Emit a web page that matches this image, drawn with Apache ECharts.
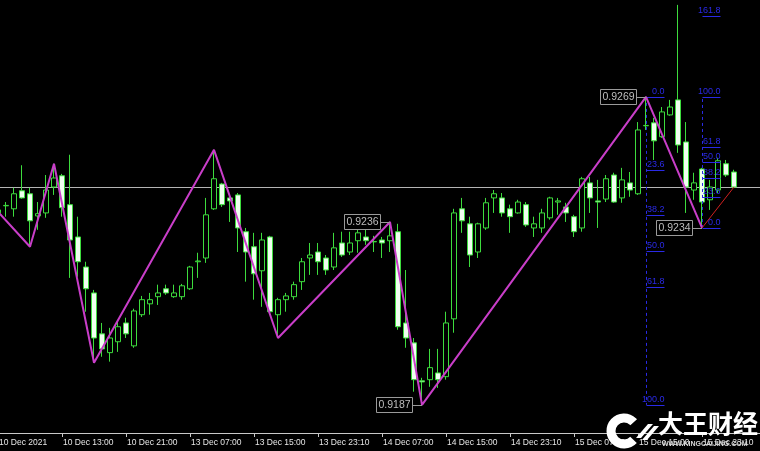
<!DOCTYPE html>
<html><head><meta charset="utf-8">
<script src="https://cdn.jsdelivr.net/npm/echarts@6/dist/echarts.min.js"></script>
<style>html,body{margin:0;padding:0;background:#000;}#c{width:760px;height:451px;}</style>
</head><body><div id="c"></div>
<script>
const open = [0.92381,0.92400,0.92392,0.92440,0.92432,0.92373,0.92381,0.92450,0.92480,0.92403,
0.92317,0.92237,0.92168,0.92059,0.92009,0.92038,0.92088,0.92027,0.92110,0.92139,
0.92158,0.92179,0.92158,0.92158,0.92179,0.92251,0.92261,0.92392,0.92458,0.92421,
0.92429,0.92331,0.92291,0.92227,0.92317,0.92110,0.92150,0.92158,0.92198,0.92261,
0.92277,0.92261,0.92237,0.92301,0.92277,0.92307,0.92317,0.92304,0.92309,0.92307,
0.92331,0.92088,0.92035,0.91934,0.91937,0.91955,0.91945,0.92099,0.92392,0.92352,
0.92277,0.92341,0.92421,0.92421,0.92392,0.92381,0.92403,0.92341,0.92341,0.92368,
0.92410,0.92397,0.92371,0.92341,0.92461,0.92413,0.92418,0.92482,0.92421,0.92461,
0.92432,0.92613,0.92621,0.92584,0.92642,0.92682,0.92570,0.92442,0.92498,0.92416,
0.92442,0.92512,0.92490];
const close = [0.92389,0.92401,0.92432,0.92421,0.92360,0.92379,0.92442,0.92474,0.92395,0.92309,
0.92251,0.92179,0.92048,0.92019,0.92048,0.92078,0.92059,0.92120,0.92150,0.92150,
0.92168,0.92168,0.92168,0.92187,0.92237,0.92253,0.92376,0.92472,0.92403,0.92413,
0.92341,0.92277,0.92219,0.92309,0.92118,0.92150,0.92160,0.92190,0.92251,0.92269,
0.92251,0.92229,0.92288,0.92269,0.92301,0.92328,0.92307,0.92305,0.92301,0.92320,
0.92078,0.92048,0.91937,0.91931,0.91969,0.91937,0.92088,0.92381,0.92360,0.92269,
0.92352,0.92408,0.92432,0.92381,0.92371,0.92410,0.92349,0.92352,0.92381,0.92421,
0.92413,0.92381,0.92331,0.92472,0.92421,0.92410,0.92472,0.92410,0.92469,0.92442,
0.92602,0.92614,0.92573,0.92650,0.92663,0.92562,0.92450,0.92461,0.92410,0.92450,
0.92520,0.92482,0.92450];
const low = [0.92373,0.92371,0.92371,0.92419,0.92291,0.92336,0.92368,0.92429,0.92371,0.92208,
0.92211,0.92118,0.91982,0.91998,0.91985,0.92011,0.92048,0.92022,0.92104,0.92110,
0.92136,0.92163,0.92155,0.92150,0.92176,0.92208,0.92248,0.92389,0.92397,0.92357,
0.92277,0.92198,0.92150,0.92131,0.92110,0.92048,0.92118,0.92150,0.92176,0.92216,
0.92216,0.92216,0.92229,0.92264,0.92269,0.92275,0.92296,0.92277,0.92261,0.92277,
0.92070,0.92022,0.91905,0.91870,0.91918,0.91915,0.91937,0.92062,0.92328,0.92237,
0.92261,0.92336,0.92381,0.92371,0.92328,0.92379,0.92344,0.92317,0.92328,0.92363,
0.92376,0.92357,0.92317,0.92331,0.92381,0.92341,0.92410,0.92408,0.92408,0.92424,
0.92429,0.92602,0.92522,0.92581,0.92640,0.92541,0.92381,0.92416,0.92341,0.92389,
0.92434,0.92477,0.92448];
const high = [0.92397,0.92410,0.92448,0.92508,0.92448,0.92410,0.92482,0.92512,0.92485,0.92536,
0.92371,0.92251,0.92176,0.92088,0.92075,0.92091,0.92102,0.92126,0.92160,0.92168,
0.92190,0.92190,0.92190,0.92192,0.92240,0.92275,0.92421,0.92549,0.92461,0.92429,
0.92434,0.92341,0.92328,0.92328,0.92320,0.92155,0.92168,0.92198,0.92261,0.92301,
0.92301,0.92269,0.92328,0.92331,0.92331,0.92344,0.92341,0.92320,0.92317,0.92357,
0.92352,0.92229,0.92048,0.91942,0.92019,0.92019,0.92118,0.92392,0.92421,0.92371,
0.92355,0.92421,0.92442,0.92434,0.92403,0.92416,0.92410,0.92371,0.92392,0.92424,
0.92421,0.92408,0.92376,0.92477,0.92477,0.92469,0.92482,0.92488,0.92501,0.92490,
0.92623,0.92690,0.92634,0.92663,0.92682,0.92935,0.92623,0.92488,0.92501,0.92469,
0.92528,0.92522,0.92496];

const tickLabels = ['10 Dec 2021','10 Dec 13:00','10 Dec 21:00','13 Dec 07:00','13 Dec 15:00','13 Dec 23:10',
  '14 Dec 07:00','14 Dec 15:00','14 Dec 23:10','15 Dec 07:00','15 Dec 15:00','15 Dec 23:10'];

const zigzagIdx = [0,4,7,12,27,35,49,53,81,88];
const zigzagVal = [0.92384,0.92291,0.92512,0.91982,0.92549,0.92048,0.92357,0.91870,0.92690,0.92341];
const legIdx = [88,92];
const legVal = [0.92341,0.92450];
const bidPrice = 0.92450;

const pivotIdx = [49,53,81,88];
const pivotVal = [0.92357,0.91870,0.92690,0.92341];
const pivotText = ['0.9236','0.9187','0.9269','0.9234'];

const fibIdx = [81,88];
const fibFrom = [0.92690,0.92341];
const fibTo = [0.91870,0.92690];
const fibLevels1 = [0,23.6,38.2,50,61.8,100];
const fibLevels2 = [0,23.6,38.2,50,61.8,100,161.8];
const fibLevelSets = [fibLevels1, fibLevels2];

const nCats = 96;
const cats = [];
for (let i = 0; i < nCats; i++) cats.push(String(i));
const candles = open.map((o, i) => [o, close[i], low[i], high[i]]);

const chart = echarts.init(document.getElementById('c'), null, {renderer: 'canvas'});
const FIB = '#2a2ae6';

chart.setOption({
  backgroundColor: '#000000',
  animation: false,
  grid: {left: -6, right: -2, top: 0, bottom: 18, containLabel: false, outerBoundsMode: 'none'},
  xAxis: {
    type: 'category', data: cats, boundaryGap: true,
    axisLine: {lineStyle: {color: '#c8c8c8', width: 1}},
    axisTick: {show: true, alignWithLabel: true, interval: (i) => i % 8 === 0, length: 4, lineStyle: {color: '#c8c8c8'}},
    axisLabel: {
      interval: (i) => i % 8 === 0 && i <= 88,
      formatter: (v, i) => tickLabels[Math.round(Number(v) / 8)],
      color: '#e6e6e6', fontSize: 8.5, fontFamily: 'Liberation Sans', align: 'left', margin: 5,
      padding: [0, 0, 0, 1]
    },
    splitLine: {show: false}
  },
  yAxis: {
    type: 'value', min: 0.91795, max: 0.92948, show: false, splitLine: {show: false}
  },
  series: [
    {
      type: 'candlestick', data: candles, barWidth: 5,
      itemStyle: {color: '#000000', color0: '#f0fff0', borderColor: '#3ddc3d', borderColor0: '#3ddc3d', borderWidth: 1},
      z: 2
    },
    {
      type: 'line', data: zigzagIdx.map((x, k) => [x, zigzagVal[k]]),
      showSymbol: false, symbol: 'none', lineStyle: {color: '#c93ec9', width: 2}, z: 5,
      markLine: {
        silent: true, symbol: 'none', label: {show: false}, precision: 6, z: 1,
        lineStyle: {color: '#b4b4b4', type: 'solid', width: 1},
        data: [{yAxis: bidPrice}]
      }
    },
    {
      type: 'line', data: legIdx.map((x, k) => [x, legVal[k]]),
      showSymbol: false, symbol: 'none', lineStyle: {color: '#d02020', width: 1}, z: 5
    },
    {
      type: 'custom', z: 4,
      data: fibIdx.map((x, k) => [x, fibFrom[k], fibTo[k]]),
      encode: {x: 0, y: 1},
      renderItem: function (params, api) {
        const k = params.dataIndex;
        const idx = api.value(0), p0 = api.value(1), p1 = api.value(2);
        const a = api.coord([idx, p0]);
        const b = api.coord([idx, p1]);
        const x = Math.round(a[0]) + 0.5;
        const w = api.size([1, 0])[0] * 2.25;
        const ch = [{
          type: 'line', shape: {x1: x, y1: a[1], x2: x, y2: b[1]},
          style: {stroke: FIB, lineWidth: 1, lineDash: [3, 3]}
        }];
        fibLevelSets[k].forEach(function (r) {
          const p = p0 + (p1 - p0) * r / 100;
          const y = Math.round(api.coord([idx, p])[1]) + 0.5;
          ch.push({type: 'line', shape: {x1: x, y1: y, x2: x + w, y2: y}, style: {stroke: FIB, lineWidth: 1}});
          ch.push({type: 'text', x: x + w, y: y - 1,
            style: {text: r.toFixed(1), fill: FIB, font: '9px "Liberation Sans"', align: 'right', verticalAlign: 'bottom'}});
        });
        return {type: 'group', children: ch};
      }
    },
    {
      type: 'custom', z: 6,
      data: pivotIdx.map((x, k) => [x, pivotVal[k]]),
      encode: {x: 0, y: 1},
      renderItem: function (params, api) {
        const k = params.dataIndex;
        const pt = api.coord([api.value(0), api.value(1)]);
        const y = Math.round(pt[1]) + 0.5;
        const right = Math.round(pt[0] - 10) + 0.5;
        return {type: 'group', children: [
          {type: 'line', shape: {x1: right, y1: y, x2: pt[0], y2: y}, style: {stroke: '#9a9a9a', lineWidth: 1}},
          {type: 'rect', shape: {x: right - 36, y: y - 8, width: 36, height: 15}, style: {stroke: '#9a9a9a', fill: '#000', lineWidth: 1}},
          {type: 'text', x: right - 18, y: y, style: {text: pivotText[k], fill: '#bdbdbd', font: '10.5px "Liberation Sans"', align: 'center', verticalAlign: 'middle'}}
        ]};
      }
    }
  ],
  graphic: [
    {type: 'arc', shape: {cx: 624, cy: 431, r: 13, startAngle: 0.75, endAngle: 5.55}, style: {stroke: '#ffffff', lineWidth: 9, fill: null}, z: 100},
    {type: 'polygon', shape: {points: [[636,438],[641,438],[653,424],[648,424]]}, style: {fill: '#ffffff'}, z: 100},
    {type: 'polygon', shape: {points: [[642,440],[647,440],[659,426],[654,426]]}, style: {fill: '#ffffff'}, z: 100},
    {type: 'text', x: 658, y: 411, style: {text: '大王财经', fill: '#ffffff', font: 'bold 25px "Noto Sans CJK SC"'}, z: 100},
    {type: 'text', x: 662, y: 441, style: {text: 'WWW.KINGCAIJING.COM', fill: '#d8d8d8', font: 'bold 7px "Liberation Sans"'}, z: 100}
  ]
});
</script></body></html>
